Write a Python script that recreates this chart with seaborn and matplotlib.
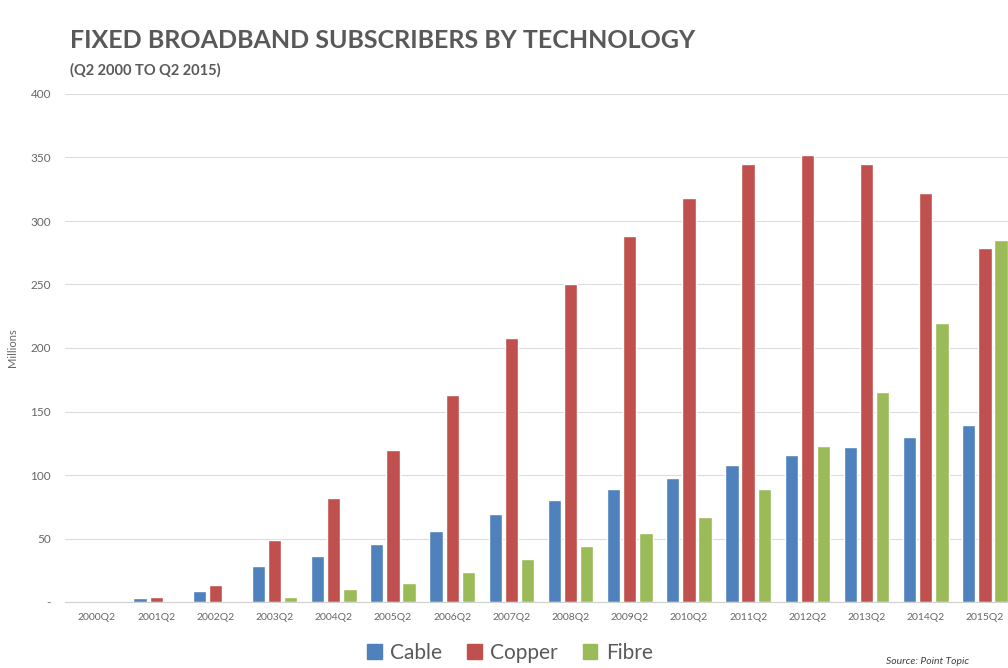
import pandas as pd
import numpy as np
import matplotlib.pyplot as plt
from matplotlib.ticker import FuncFormatter
from matplotlib.patches import Patch
import seaborn as sns

quarters = ['2000Q2', '2001Q2', '2002Q2', '2003Q2', '2004Q2', '2005Q2', '2006Q2', '2007Q2',
            '2008Q2', '2009Q2', '2010Q2', '2011Q2', '2012Q2', '2013Q2', '2014Q2', '2015Q2']
cable = [1, 3, 9, 28, 36, 46, 56, 69, 80, 89, 98, 108, 116, 122, 130, 139]
copper = [1, 4, 13, 49, 82, 120, 163, 208, 250, 288, 318, 345, 352, 345, 322, 279]
fibre = [0, 0, 0.5, 4, 10, 15, 24, 34, 44, 54, 67, 89, 123, 165, 220, 285]
techs = ['Cable', 'Copper', 'Fibre']
colors = ['#4F81BD', '#C0504D', '#9BBB59']

df = pd.DataFrame({'quarter': quarters, 'Cable': cable, 'Copper': copper, 'Fibre': fibre})
df = df.melt(id_vars='quarter', var_name='tech', value_name='subs')

sns.set_style('white')
plt.rcParams['font.family'] = ['Lato', 'DejaVu Sans']

fig = plt.figure(figsize=(10.08, 6.68), dpi=100)
ax = fig.add_axes([65 / 1008, 1 - 602 / 668, 1 - 65 / 1008, (602 - 94) / 668])

sns.barplot(data=df, x='quarter', y='subs', hue='tech', palette=colors,
            width=0.82, gap=0.18, ax=ax, legend=False, saturation=1)

ax.set_xlim(-0.54, 15.39)
ax.set_ylim(0, 400)
ax.set_yticks(range(0, 401, 50))
ax.yaxis.set_major_formatter(FuncFormatter(lambda v, p: '-' if v == 0 else f'{int(v)}'))
ax.grid(axis='y', color='#dcdcdc', linewidth=0.8)
ax.set_axisbelow(True)
for s in ['top', 'right', 'left']:
    ax.spines[s].set_visible(False)
ax.spines['bottom'].set_color('#d0d0d0')
ax.tick_params(axis='both', length=0, colors='#666666')
ax.tick_params(axis='x', labelsize=7.5, pad=8)
ax.tick_params(axis='y', labelsize=8.5, pad=10)
ax.set_xlabel('')
ax.set_ylabel('Millions', fontsize=8, color='#666666', labelpad=9)

fig.text(70 / 1008, 1 - 40 / 668, 'FIXED BROADBAND SUBSCRIBERS BY TECHNOLOGY',
         fontsize=18, fontweight='bold', color='#595959', va='center')
fig.text(70 / 1008, 1 - 70 / 668, '(Q2 2000 TO Q2 2015)',
         fontsize=10.5, fontweight='bold', color='#595959', va='center')

handles = [Patch(color=c, label=t) for t, c in zip(techs, colors)]
fig.legend(handles=handles, loc='center', bbox_to_anchor=(510 / 1008, 1 - 653 / 668),
           ncol=3, frameon=False, fontsize=15, handlelength=0.7, handleheight=0.7,
           handletextpad=0.4, columnspacing=1.2, labelcolor='#595959')

fig.text(928 / 1008, 1 - 662 / 668, 'Source: Point Topic', fontsize=7.5,
         style='italic', color='#404040', ha='center', va='center')

fig.savefig('out.png', dpi=100)
